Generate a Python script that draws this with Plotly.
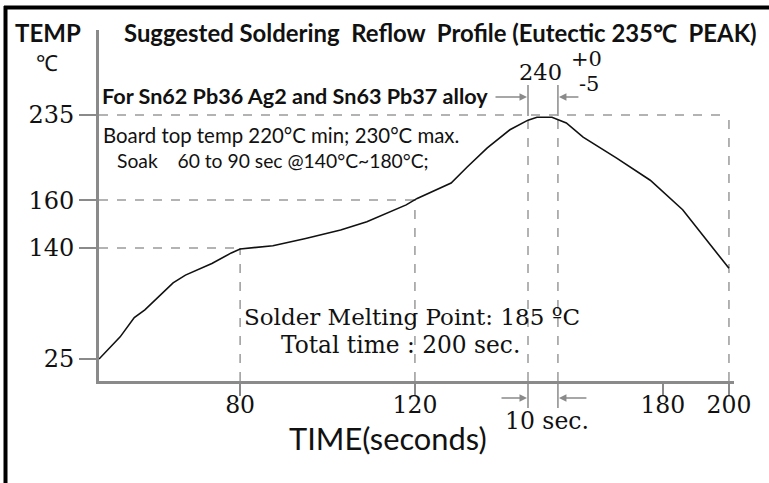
import numpy as np
import plotly.graph_objects as go

# ---------------- data ----------------
TIME_S = [0, 12, 20, 26, 42, 49, 64, 75, 80, 87.5, 95, 103, 109, 114, 118, 120.5,
          128, 131.5, 136, 141, 145, 148, 153, 157, 161, 169, 177, 186, 193, 200]
TEMP_C = [25, 48, 68, 76, 104, 112, 124, 135, 139, 141, 144, 147.5, 151, 155, 158, 161.5,
          175, 189, 206, 222, 230.5, 233, 233, 228, 215.5, 197, 177.5, 156, 144, 119]

X_TICK_VALS = [80, 120, 180, 200]
X_TICK_TEXT = ["80", "120", "180", "200"]
Y_TICK_VALS = [25, 140, 160, 235]
Y_TICK_TEXT = ["25", "140", "160", "235"]
PEAK_WINDOW = [145, 155]   # seconds, the "10 sec." window
PEAK_TEMP = 235
TOTAL_TIME = 200

# ---------------- uneven (schematic) axis spacing of the original drawing ----------------
X_ANCHOR_SEC = [0, 80, 120, 145, 155, 180, 200]
X_ANCHOR_POS = [0, 44.8, 100.3, 136.2, 145.7, 179.0, 200]
Y_ANCHOR_C = [25, 140, 160, 235]
Y_ANCHOR_POS = [25, 120.5, 161.8, 235]
X_RANGE = [0, 201.6]
Y_RANGE = [6.1, 308.2]


def wx(v):
    return np.interp(v, X_ANCHOR_SEC, X_ANCHOR_POS)


def wy(v):
    return np.interp(v, Y_ANCHOR_C, Y_ANCHOR_POS)


W, H = 769, 483
L, R, T, B = 99, 35, 30, 102
PW, PH = W - L - R, H - T - B


def xp(px):
    return (px - L) / PW


def yp(py):
    return (H - B - py) / PH


def xs(sec):  # seconds -> paper x
    return float(wx(sec)) / X_RANGE[1]


AX = "#8a8a8a"
DASH = "#9a9a9a"
INK = "#111111"
SANS = "Lato, 'Open Sans', sans-serif"
SERIF = "'DejaVu Serif', serif"

fig = go.Figure()
fig.add_trace(go.Scatter(x=wx(TIME_S), y=wy(TEMP_C), mode="lines",
                         line=dict(color=INK, width=1.6), hoverinfo="skip",
                         showlegend=False))

shapes = []


def dline(x0, y0, x1, y1, xref="x", yref="y", color=DASH, width=1.5, dash="dash"):
    shapes.append(dict(type="line", x0=x0, y0=y0, x1=x1, y1=y1, xref=xref, yref=yref,
                       line=dict(color=color, width=width, dash=dash), layer="below"))


ymin = Y_RANGE[0]
# horizontal guides
dline(0, wy(PEAK_TEMP), wx(TOTAL_TIME), wy(PEAK_TEMP))
dline(0, wy(160), wx(120), wy(160))
dline(0, wy(140), wx(80), wy(140))
# vertical guides
dline(wx(80), ymin, wx(80), wy(140))
dline(wx(120), ymin, wx(120), wy(160))
dline(wx(TOTAL_TIME), ymin, wx(TOTAL_TIME), wy(PEAK_TEMP))
for s in PEAK_WINDOW:
    dline(wx(s), ymin, wx(s), wy(PEAK_TEMP))
    # solid markers above the peak and below the axis
    dline(xs(s), yp(116), xs(s), yp(85), xref="paper", yref="paper", color=AX, dash="solid")
    dline(xs(s), yp(382), xs(s), yp(408), xref="paper", yref="paper", color=AX, dash="solid")

# black frame (top and left)
shapes.append(dict(type="line", xref="paper", yref="paper", x0=xp(4), x1=xp(769),
                   y0=yp(7.5), y1=yp(7.5), line=dict(color="black", width=4)))
shapes.append(dict(type="line", xref="paper", yref="paper", x0=xp(5.5), x1=xp(5.5),
                   y0=yp(6), y1=yp(483), line=dict(color="black", width=4)))

ann = []


def text(t, px, py, size, family=SANS, anchor="left", bold=False):
    ann.append(dict(text=("<b>%s</b>" % t) if bold else t, x=xp(px), y=yp(py),
                    xref="paper", yref="paper", xanchor=anchor, yanchor="middle",
                    showarrow=False, font=dict(family=family, size=size, color=INK)))


def arrow(sec, py, dx):
    ann.append(dict(text="", x=xs(sec), y=yp(py), xref="paper", yref="paper",
                    ax=dx, ay=0, showarrow=True, arrowhead=2, arrowsize=1,
                    arrowwidth=1.5, arrowcolor=AX, standoff=1))


NB = "\u00a0"
text("TEMP", 48, 33, 24, anchor="center", bold=True)
text("℃", 47, 62, 22, anchor="center")
text("Suggested Soldering" + NB * 2 + "Reflow" + NB * 2 + "Profile (Eutectic 235℃" + NB * 2 + "PEAK)",
     122, 33, 23.9, bold=True)
text("240", 540, 72, 22.5, family=SERIF, anchor="center")
text("+0", 586, 59, 21, family=SERIF, anchor="center")
text("-5", 589, 84, 21, family=SERIF, anchor="center")
text("For Sn62 Pb36 Ag2 and Sn63 Pb37 alloy", 100, 96, 21.6, bold=True)
text("Board top temp 220°C min; 230°C max.", 101, 135, 20.4)
text("Soak" + NB * 4 + "60 to 90 sec @140°C~180°C;", 115, 160, 19.3)
text("Solder Melting Point: 185" + NB + "ºC", 242, 317, 23, family=SERIF)
text("Total time : 200 sec.", 279, 344, 23.3, family=SERIF)
text("10 sec.", 503, 421, 23.5, family=SERIF)
text("TIME(seconds)", 287, 438, 30.8)

arrow(PEAK_WINDOW[0], 97, -34)
arrow(PEAK_WINDOW[1], 97, 22)
arrow(PEAK_WINDOW[0], 398, -28)
arrow(PEAK_WINDOW[1], 398, 30)

fig.update_layout(
    width=W, height=H, margin=dict(l=L, r=R, t=T, b=B, pad=0),
    paper_bgcolor="white", plot_bgcolor="white", showlegend=False,
    shapes=shapes, annotations=ann,
    xaxis=dict(range=X_RANGE, showline=True, linecolor=AX, linewidth=3,
               ticks="outside", ticklen=12, tickwidth=1.5, tickcolor=AX,
               ticklabelstandoff=-11,
               tickvals=list(wx(X_TICK_VALS)), ticktext=X_TICK_TEXT,
               tickfont=dict(family=SERIF, size=23.5, color=INK),
               showgrid=False, zeroline=False, fixedrange=True),
    yaxis=dict(range=Y_RANGE, showline=True, linecolor=AX, linewidth=3,
               ticks="outside", ticklen=17, tickwidth=1.5, tickcolor=AX,
               tickvals=list(wy(Y_TICK_VALS)), ticktext=Y_TICK_TEXT,
               tickfont=dict(family=SERIF, size=24, color=INK),
               showgrid=False, zeroline=False, fixedrange=True),
)

fig.write_html("out.html", config={"displayModeBar": False},
               post_script="document.body.style.margin='0';document.body.style.overflow='hidden';")
